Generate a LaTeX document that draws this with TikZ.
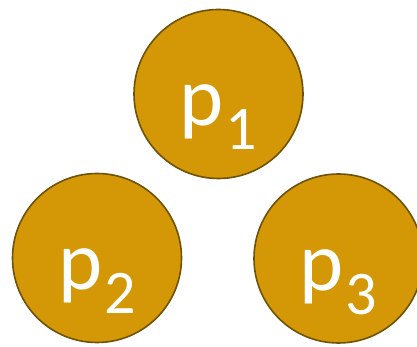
\documentclass[tikz,border=0pt]{standalone}
\usepackage{fontspec}
\setmainfont{Carlito}
\usepackage{tikz}
\usetikzlibrary{positioning}
\usepackage{xcolor}
\definecolor{gold}{RGB}{212,152,6}
\definecolor{goldedge}{RGB}{108,82,10}
\newcommand{\procname}[1]{p\kern2pt\raisebox{-0.28em}{\fontsize{62}{62}\selectfont #1}}

\begin{document}
\begin{tikzpicture}[x=1pt, y=1pt,
  proc/.style={circle, draw=goldedge, line width=1.6pt, fill=gold,
    minimum size=169pt, inner sep=0pt, text=white,
    text height=64pt, text depth=0pt,
    font=\fontsize{84}{84}\selectfont}
]
\useasboundingbox (0,0) rectangle (417,347);
\clip (0,0) rectangle (417,347);

\node[proc] (p1) at (218.5,253) {\procname{1}};
\node[proc] (p2) at (97,89) {\procname{2}};
\node[proc] (p3) at (338.5,88.5) {\procname{3}};

\end{tikzpicture}
\end{document}
